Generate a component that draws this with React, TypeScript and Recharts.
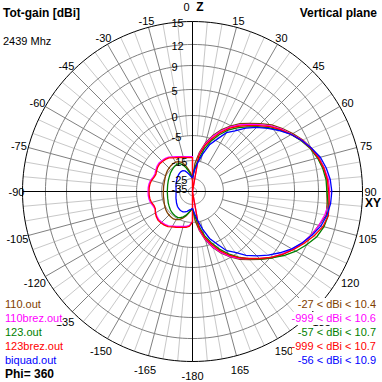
import { Line, LineChart, ReferenceDot, XAxis, YAxis } from "recharts";

// elevation angle (deg), 0 = Z (up), 90 = XY (right)
const thetas = [
  -180, -175, -170, -165, -160, -155, -150, -145, -140, -135, -130, -125, -120,
  -115, -110, -105, -100, -95, -90, -85, -80, -75, -70, -65, -60, -55, -50, -45,
  -40, -35, -30, -25, -20, -15, -10, -5, 0, 5, 10, 15, 20, 25, 30, 35, 40, 45,
  50, 55, 60, 65, 70, 75, 80, 85, 90, 95, 100, 105, 110, 115, 120, 125, 130,
  135, 140, 145, 150, 155, 160, 165, 170, 175, 180,
];

// gain in dBi for each angle above
const gain110 = [
  -22.6, -21.7, -20.0, -18.1, -16.4, -15.0, -14.4, -14.0, -14.0, -14.1, -14.2,
  -14.4, -14.7, -15.0, -15.4, -15.7, -15.8, -15.9, -16.0, -16.0, -15.9, -15.8,
  -15.6, -15.3, -14.9, -14.6, -14.3, -14.1, -13.9, -13.8, -13.8, -14.2, -15.0,
  -17.2, -20.0, -22.2, -27.0, -16.5, -11.6, -7.3, -4.1, -2.0, -0.1, 1.3, 2.5,
  3.85, 5.25, 6.3, 7.3, 8.3, 9.1, 9.7, 10.1, 10.3, 10.2, 10.3, 10.4, 9.7, 9.1,
  8.3, 7.3, 6.3, 5.25, 3.85, 2.5, 1.3, -0.1, -2.0, -4.1, -7.3, -11.6, -16.0,
  -22.6,
];
const gain110brez = [
  -15.6, -13.8, -13.2, -12.9, -12.5, -12.0, -11.4, -10.6, -10.2, -10.0, -9.8,
  -10.0, -10.4, -10.8, -10.6, -10.0, -9.7, -9.6, -9.6, -9.6, -9.7, -10.0, -10.6,
  -10.8, -10.4, -10.0, -9.8, -10.0, -10.2, -10.6, -11.4, -12.0, -12.5, -12.9,
  -13.2, -13.4, -13.4, -999, -12.2, -7.7, -4.4, -2.3, -0.4, 1.0, 2.2, 3.55, 5.0,
  6.1, 7.1, 8.2, 9.05, 9.65, 10.1, 10.5, 10.6, 10.55, 10.2, 9.7, 9.1, 8.25, 7.2,
  6.2, 5.1, 3.65, 2.3, 1.1, -0.3, -2.2, -4.3, -7.6, -12.0, -999, -15.6,
];
const gain123 = [
  -22.8, -21.7, -20.3, -18.6, -17.2, -16.1, -15.6, -15.6, -15.7, -15.9, -16.2,
  -16.6, -17.0, -17.3, -17.7, -17.9, -18.1, -18.2, -18.2, -18.2, -18.1, -17.9,
  -17.7, -17.4, -17.1, -16.7, -16.2, -15.8, -15.4, -15.0, -14.8, -15.0, -16.4,
  -18.6, -21.1, -23.1, -24.4, -19.5, -14.8, -10.0, -6.0, -3.4, -1.3, 0.3, 1.6,
  3.0, 4.5, 5.8, 7.0, 8.0, 8.9, 9.5, 9.9, 10.15, 10.2, 10.45, 10.7, 10.45, 9.9,
  9.0, 7.9, 6.6, 5.2, 3.8, 2.3, 0.8, -1.0, -3.1, -5.7, -9.2, -13.6, -18.8, -22.8,
];
const gain123brez = [
  -15.2, -13.4, -12.8, -12.5, -12.1, -11.6, -11.0, -10.2, -9.8, -9.6, -9.4,
  -9.7, -10.2, -11.0, -11.0, -10.4, -10.1, -10.0, -10.0, -10.0, -10.1, -10.4,
  -11.0, -11.2, -10.8, -10.4, -10.2, -10.4, -10.6, -11.0, -11.8, -12.4, -12.9,
  -13.3, -13.6, -13.8, -13.8, -999, -12.8, -8.3, -5.0, -2.8, -0.8, 0.7, 1.9,
  3.3, 4.8, 5.95, 7.0, 8.1, 9.0, 9.6, 10.05, 10.35, 10.45, 10.6, 10.7, 10.3, 9.5,
  8.5, 7.4, 6.3, 5.1, 3.6, 2.2, 0.9, -0.6, -2.6, -4.9, -8.2, -12.6, -999, -15.2,
];
const gainBiquad = [
  -22.8, -22.3, -21.7, -20.8, -20.1, -19.7, -19.7, -19.8, -20.1, -20.4, -20.9,
  -21.3, -21.8, -22.1, -22.4, -22.7, -22.9, -23.0, -23.1, -23.0, -22.9, -22.7,
  -22.4, -22.1, -21.8, -21.4, -21.0, -20.6, -20.1, -19.7, -19.4, -19.4, -20.0,
  -21.4, -22.8, -23.9, -24.4, -20.5, -16.0, -12.0, -7.5, -4.6, -2.0, -0.5, 1.3,
  2.8, 4.3, 5.7, 7.0, 8.1, 9.1, 9.9, 10.4, 10.75, 10.9, 10.8, 10.5, 10.0, 9.2,
  8.2, 7.1, 5.8, 4.4, 2.9, 1.4, -0.4, -1.9, -4.5, -7.4, -11.8, -15.8, -20.0,
  -22.8,
];

const fileNames = ["110.out", "110brez.out", "123.out", "123brez.out", "biquad.out"];
const gainRanges = [
  "-27 < dBi < 10.4",
  "-999 < dBi < 10.6",
  "-57 < dBi < 10.7",
  "-999 < dBi < 10.7",
  "-56 < dBi < 10.9",
];
const ringGains = [12, 9, 5, 0, -5, -15, -25, -35];
const ringLabels = [15, 12, 9, 5, 0, -5, -15, -25, -35];
const angleTicks = [
  15, 30, 45, 60, 75, 90, 105, 120, 135, 150, 165, 180, -165, -150, -135, -120,
  -105, -90, -75, -60, -45, -30, -15,
];

// 4nec2 style log radial scale: dBi -> fraction of outer radius
const scaleGain = [-60, -35, -25, -15, -5, 0, 5, 9, 12, 15];
const scaleFrac = [0, 0.024, 0.076, 0.182, 0.329, 0.447, 0.6, 0.741, 0.865, 1];
const OUTER = 170;

const gainToRadius = (g: number) => {
  if (g <= scaleGain[0]) return 0;
  for (let i = 1; i < scaleGain.length; i++) {
    if (g <= scaleGain[i]) {
      const t = (g - scaleGain[i - 1]) / (scaleGain[i] - scaleGain[i - 1]);
      return OUTER * (scaleFrac[i - 1] + t * (scaleFrac[i] - scaleFrac[i - 1]));
    }
  }
  return OUTER;
};

const polar = (deg: number, r: number) => {
  const a = (deg * Math.PI) / 180;
  return { x: r * Math.sin(a), y: r * Math.cos(a) };
};

const GAP = { x: 0, y: null };

const colors = ["#804000", "#ff00ff", "#008000", "#ff0000", "#0000ff"];
const series = [gain110, gain110brez, gain123, gain123brez, gainBiquad].map(
  (gains, i) => ({
    name: fileNames[i],
    color: colors[i],
    range: gainRanges[i],
    points: thetas.map((t, j) => polar(t, gainToRadius(gains[j]))),
  })
);

const circle = (r: number) => {
  const pts: any[] = [];
  for (let a = -180; a <= 180; a += 2) pts.push(polar(a, r));
  return pts;
};

const ringData = ringGains.flatMap((g) => [...circle(gainToRadius(g)), GAP]);
const outerData = circle(OUTER);

const lightAngles: number[] = [];
const darkAngles: number[] = [];
for (let a = -175; a <= 180; a += 5) {
  if (a % 90 === 0) continue;
  if (a % 15 === 0) darkAngles.push(a);
  else lightAngles.push(a);
}
const spokes = (angles: number[], from: number) =>
  angles.flatMap((a) => [polar(a, from), polar(a, OUTER), GAP]);
const lightSpokes = spokes(lightAngles, gainToRadius(-5));
const darkSpokes = spokes(darkAngles, gainToRadius(-15));
const axesData = [
  { x: -OUTER, y: 0 },
  { x: OUTER, y: 0 },
  GAP,
  { x: 0, y: OUTER },
  { x: 0, y: -OUTER },
];

const labelPos = (a: number) => {
  if (a === 90) return { x: 178, y: -1 };
  if (a === -90) return { x: -176, y: -1 };
  const rad = (a * Math.PI) / 180;
  const r = 180.5 - 3 * Math.cos(rad);
  return { x: r * Math.sin(rad), y: r * Math.cos(rad) - 1 };
};

const font = "'Liberation Sans', Arial, sans-serif";
const gridProps = {
  dataKey: "y",
  dot: false,
  activeDot: false,
  isAnimationActive: false,
  connectNulls: false,
  strokeWidth: 1,
};

// legend lines are drawn opaque, like the original (they hide the grid behind)
const legendStyle = {
  position: "absolute" as const,
  fontSize: 11,
  lineHeight: "13px",
  background: "#fff",
  whiteSpace: "nowrap" as const,
};

export default function App() {
  return (
    <div
      style={{
        position: "fixed",
        left: 0,
        top: 0,
        width: 382,
        height: 382,
        background: "#fff",
        fontFamily: font,
      }}
    >
      <LineChart width={382} height={382} margin={{ top: 0, right: 0, bottom: 0, left: 0 }}>
        <XAxis type="number" dataKey="x" domain={[-192.5, 189.5]} allowDataOverflow hide />
        <YAxis type="number" domain={[-190.5, 191.5]} allowDataOverflow hide />
        <Line {...gridProps} data={lightSpokes} stroke="#c8c8c8" />
        <Line {...gridProps} data={darkSpokes} stroke="#808080" />
        <Line {...gridProps} data={ringData} stroke="#808080" />
        <Line {...gridProps} data={axesData} stroke="#000" />
        <Line {...gridProps} data={outerData} stroke="#000" />
        {series.map((s) => (
          <Line
            key={s.name}
            {...gridProps}
            name={s.name}
            data={s.points}
            stroke={s.color}
            strokeWidth={1.3}
          />
        ))}
        {ringLabels.map((g) => (
          <ReferenceDot
            key={"r" + g}
            x={-21}
            y={gainToRadius(g) - 2}
            r={0}
            fill="none"
            stroke="none"
            ifOverflow="visible"
            label={{ value: String(g), position: "right", offset: 0, fill: "#000", fontSize: 11 }}
          />
        ))}
        {angleTicks.map((a) => {
          const p = labelPos(a);
          return (
            <ReferenceDot
              key={"a" + a}
              x={p.x}
              y={p.y}
              r={0}
              fill="none"
              stroke="none"
              ifOverflow="visible"
              label={{
                value: a === 180 ? "-180" : String(a),
                position: "center",
                fill: "#000",
                fontSize: 11,
              }}
            />
          );
        })}
        <ReferenceDot
          x={-6}
          y={184.5}
          r={0}
          fill="none"
          stroke="none"
          ifOverflow="visible"
          label={{ value: "0", position: "center", fill: "#000", fontSize: 11 }}
        />
        <ReferenceDot
          x={7.5}
          y={184.5}
          r={0}
          fill="none"
          stroke="none"
          ifOverflow="visible"
          label={{ value: "Z", position: "center", fill: "#000", fontSize: 12, fontWeight: "bold" }}
        />
        <ReferenceDot
          x={180.5}
          y={-11.5}
          r={0}
          fill="none"
          stroke="none"
          ifOverflow="visible"
          label={{ value: "XY", position: "center", fill: "#000", fontSize: 12, fontWeight: "bold" }}
        />
      </LineChart>
      <svg
        width={382}
        height={382}
        style={{ position: "absolute", left: 0, top: 0, pointerEvents: "none" }}
        fontFamily={font}
      >
        <text x={3} y={17} fontSize={12} fontWeight="bold">
          Tot-gain [dBi]
        </text>
        <text x={377} y={17} fontSize={12} fontWeight="bold" textAnchor="end">
          Vertical plane
        </text>
        <text x={3} y={45} fontSize={11}>
          2439 Mhz
        </text>
      </svg>
      {series.map((s, i) => (
        <div key={s.name} style={{ ...legendStyle, left: 5, top: 298 + i * 14, color: s.color }}>
          {s.name}
        </div>
      ))}
      {series.map((s, i) => (
        <div
          key={s.name + "r"}
          style={{ ...legendStyle, right: 6, top: 298 + i * 14, color: s.color }}
        >
          {s.range}
        </div>
      ))}
      <div
        style={{
          ...legendStyle,
          left: 5,
          top: 367,
          fontSize: 12,
          lineHeight: "14px",
          fontWeight: "bold",
          color: "#000",
        }}
      >
        Phi= 360
      </div>
    </div>
  );
}
